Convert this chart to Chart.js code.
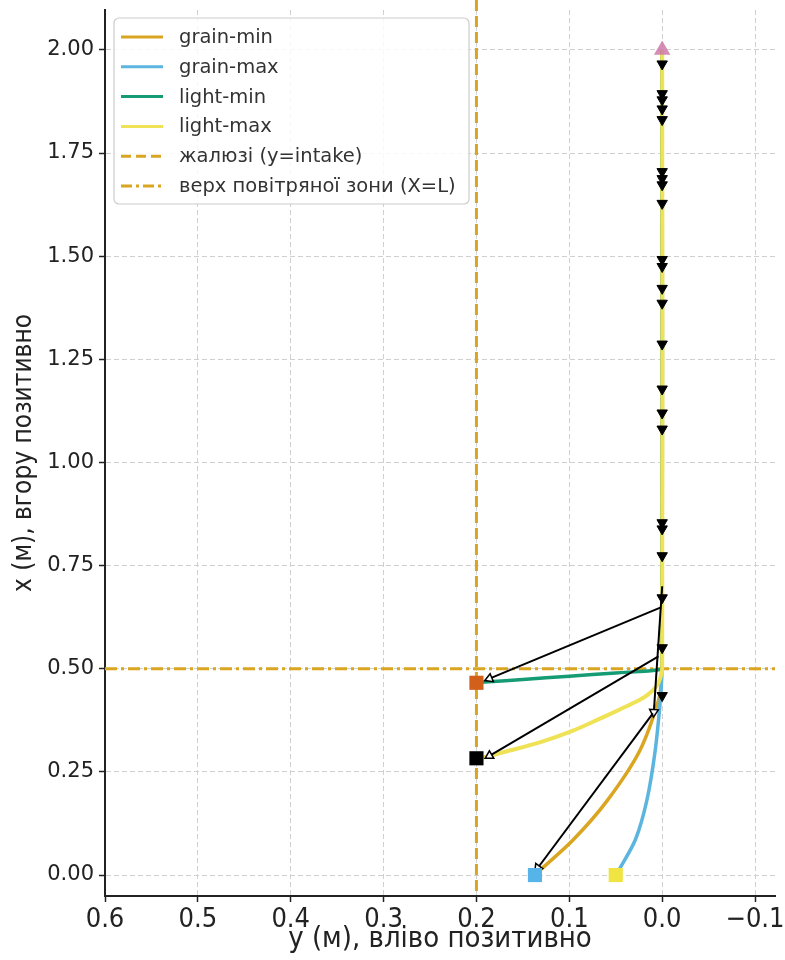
<!DOCTYPE html>
<html>
<head>
<meta charset="utf-8">
<script src="https://cdn.jsdelivr.net/npm/chart.js@4.4.1/dist/chart.umd.min.js"></script>
<style>
  html, body { margin: 0; padding: 0; background: #fff; }
</style>
</head>
<body>
<canvas id="trajChart" width="785" height="960"></canvas>
<script>

// tick labels
const xTickVals = [0.6, 0.5, 0.4, 0.3, 0.2, 0.1, 0.0, -0.1];
const yTickVals = [0, 0.25, 0.5, 0.75, 1.0, 1.25, 1.5, 1.75, 2.0];

// trajectories: [y (lateral), x (height)]
const grainMin = [[0, 2.0], [0, 0.6], [0.001, 0.47], [0.004, 0.423], [0.024, 0.302],
    [0.059, 0.181], [0.096, 0.085], [0.136, 0.003]];
const grainMax = [[0, 2.0], [0, 0.6], [0.0005, 0.48], [0.002, 0.423], [0.0075, 0.302],
    [0.0165, 0.181], [0.029, 0.085], [0.049, 0.003]];
const lightMin = [[0, 2.0], [0, 0.51], [0.002, 0.498], [0.05, 0.49], [0.1, 0.482], [0.15, 0.474], [0.196, 0.467]];
const lightMax = [[0, 2.0], [0, 0.5], [0.002, 0.478], [0.006, 0.458], [0.015, 0.438], [0.024, 0.425],
    [0.045, 0.402], [0.07, 0.376], [0.096, 0.35], [0.131, 0.322], [0.167, 0.3], [0.196, 0.283]];
const seriesNames = ["grain-min", "grain-max", "light-min", "light-max"];

// reference lines
const intakeY = 0.2;     // жалюзі
const zoneTopX = 0.5;    // верх повітряної зони
const refNames = ["жалюзі (y=intake)", "верх повітряної зони (X=L)"];

// start / end markers
const startPoint = [0, 2.0];
const endPoints = [[0.137, 0.0], [0.05, 0.0], [0.2, 0.466], [0.2, 0.283]];

// quiver arrows: tail -> head
const arrowTails = [[0.002, 0.648], [0.004, 0.53], [0.01, 0.392], [0.0, 0.70]];
const arrowHeads = [[0.186, 0.476], [0.186, 0.289], [0.134, 0.017], [0.009, 0.395]];
// small arrows along the centre line (heights)
const smallArrowX = [1.966, 1.894, 1.879, 1.857, 1.831, 1.705, 1.688, 1.673, 1.628, 1.492, 1.475,
    1.422, 1.386, 1.287, 1.178, 1.12, 1.081, 0.854, 0.839, 0.774, 0.672, 0.551, 0.435];

const gold = "#DAA520";
const lineColors = ["#DAA520", "#5BB5DF", "#169C74", "#EFE255"];
const endColors = ["#56B4E9", "#F0E442", "#D2601A", "#000000"];

const pts = arr => arr.map(p => ({x: p[0], y: p[1]}));

const datasets = [];
[grainMin, grainMax, lightMin, lightMax].forEach((s, i) => {
    datasets.push({
        label: seriesNames[i],
        data: pts(s),
        showLine: true,
        borderColor: lineColors[i],
        borderWidth: i === 3 ? 4 : 3.5,
        pointRadius: 0,
        tension: 0.3,
        order: 5 - i
    });
});

arrowTails.forEach((t, i) => {
    datasets.push({
        label: "arrow",
        data: pts([t, arrowHeads[i]]),
        showLine: true,
        borderColor: "#000",
        borderWidth: 2,
        pointStyle: "triangle",
        pointRadius: ctx => ctx.dataIndex === 1 ? 5 : 0,
        pointBackgroundColor: "#fff",
        pointBorderColor: "#000",
        pointBorderWidth: 1.5,
        rotation: ctx => {
            const ch = ctx.chart;
            const d = ctx.dataset.data;
            if (!ch.scales.x) return 0;
            const dx = ch.scales.x.getPixelForValue(d[1].x) - ch.scales.x.getPixelForValue(d[0].x);
            const dy = ch.scales.y.getPixelForValue(d[1].y) - ch.scales.y.getPixelForValue(d[0].y);
            return Math.atan2(dx, -dy) * 180 / Math.PI;
        },
        order: 1
    });
});

datasets.push({
    label: "small arrows",
    data: smallArrowX.map(v => ({x: 0, y: v})),
    showLine: false,
    pointStyle: "triangle",
    rotation: 180,
    pointRadius: 6,
    pointBackgroundColor: "#000",
    pointBorderColor: "#000",
    pointBorderWidth: 1,
    order: 1
});

datasets.push({
    label: "end",
    data: pts(endPoints),
    pointStyle: "rect",
    pointRadius: 10,
    pointBackgroundColor: endColors,
    pointBorderColor: endColors,
    pointBorderWidth: 0,
    order: 0
});
datasets.push({
    label: "start",
    data: pts([startPoint]),
    pointStyle: "triangle",
    pointRadius: 9.5,
    pointBackgroundColor: "rgba(204,121,167,0.85)",
    pointBorderColor: "rgba(204,121,167,0.85)",
    pointBorderWidth: 0,
    order: 0
});

// axvline / axhline
const refLines = {
    id: "refLines",
    beforeDatasetsDraw(chart) {
        const {ctx, chartArea: a, scales: {x, y}} = chart;
        ctx.save();
        ctx.strokeStyle = gold;
        ctx.lineWidth = 3;
        const px = x.getPixelForValue(intakeY);
        ctx.setLineDash([11, 5]);
        ctx.beginPath();
        ctx.moveTo(px, 0);
        ctx.lineTo(px, a.bottom);
        ctx.stroke();
        const py = y.getPixelForValue(zoneTopX);
        ctx.setLineDash([12, 4, 3, 4]);
        ctx.beginPath();
        ctx.moveTo(a.left, py);
        ctx.lineTo(a.right, py);
        ctx.stroke();
        ctx.restore();
    }
};

// legend box in upper left
const boxLegend = {
    id: "boxLegend",
    afterDraw(chart) {
        const ctx = chart.ctx;
        const items = seriesNames.map((n, i) => ({text: n, color: lineColors[i], dash: []}));
        items.push({text: refNames[0], color: gold, dash: [10, 5]});
        items.push({text: refNames[1], color: gold, dash: [11, 4, 3, 4]});
        const x0 = 114, y0 = 18, w = 355, h = 186, r = 5;
        ctx.save();
        ctx.fillStyle = "rgba(255,255,255,0.85)";
        ctx.strokeStyle = "#cccccc";
        ctx.lineWidth = 1.2;
        ctx.beginPath();
        ctx.roundRect(x0, y0, w, h, r);
        ctx.fill();
        ctx.stroke();
        ctx.font = '19.5px "DejaVu Sans", sans-serif';
        ctx.textBaseline = "middle";
        items.forEach((it, i) => {
            const yy = 37 + i * 29.8;
            ctx.strokeStyle = it.color;
            ctx.lineWidth = 3;
            ctx.setLineDash(it.dash);
            ctx.beginPath();
            ctx.moveTo(121, yy);
            ctx.lineTo(163, yy);
            ctx.stroke();
            ctx.setLineDash([]);
            ctx.fillStyle = "#333";
            ctx.fillText(it.text, 179, yy + 1);
        });
        ctx.restore();
    }
};

const condensed = '"DejaVu Sans Condensed", "DejaVu Sans", sans-serif';
const narrow = '"Liberation Sans Narrow", "DejaVu Sans Condensed", sans-serif';

new Chart(document.getElementById("trajChart"), {
    type: "scatter",
    data: {datasets: datasets},
    options: {
        responsive: false,
        animation: false,
        layout: {padding: {left: 0, right: 10, top: 8, bottom: 0}},
        plugins: {
            legend: {display: false},
            tooltip: {enabled: false}
        },
        scales: {
            x: {
                type: "linear",
                reverse: true,
                min: -0.1215,
                max: 0.6,
                afterBuildTicks: s => { s.ticks = xTickVals.map(v => ({value: v})); },
                afterFit: s => { s.height = 64; s.paddingLeft = 0; s.paddingRight = 0; },
                ticks: {
                    color: "#222",
                    padding: 2,
                    maxRotation: 0,
                    font: {family: narrow, size: 27},
                    callback: v => (v < -1e-9 ? "\u2212" + Math.abs(v).toFixed(1) : Math.abs(v).toFixed(1))
                },
                grid: {color: "#d0d0d0", lineWidth: 1, tickLength: 6, tickColor: "#222", tickWidth: 1.5},
                border: {display: true, color: "#222", width: 2, dash: [5, 3]},
                title: {
                    display: true,
                    text: "у (м), вліво позитивно",
                    color: "#222",
                    font: {family: condensed, size: 29},
                    padding: {top: 0, bottom: 3}
                }
            },
            y: {
                type: "linear",
                min: -0.0508,
                max: 2.0967,
                afterBuildTicks: s => { s.ticks = yTickVals.map(v => ({value: v})); },
                afterFit: s => { s.width = 105; s.paddingTop = 0; s.paddingBottom = 0; },
                ticks: {
                    color: "#222",
                    padding: 5,
                    font: {family: '"DejaVu Sans", sans-serif', size: 21},
                    callback: v => v.toFixed(2)
                },
                grid: {color: "#d0d0d0", lineWidth: 1, tickLength: 6, tickColor: "#222", tickWidth: 1.5},
                border: {display: true, color: "#222", width: 2, dash: [5, 3]},
                title: {
                    display: true,
                    text: "x (м), вгору позитивно",
                    color: "#222",
                    font: {family: condensed, size: 26},
                    padding: {top: 9, bottom: 0}
                }
            }
        }
    },
    plugins: [refLines, boxLegend]
});
</script>
</body>
</html>
